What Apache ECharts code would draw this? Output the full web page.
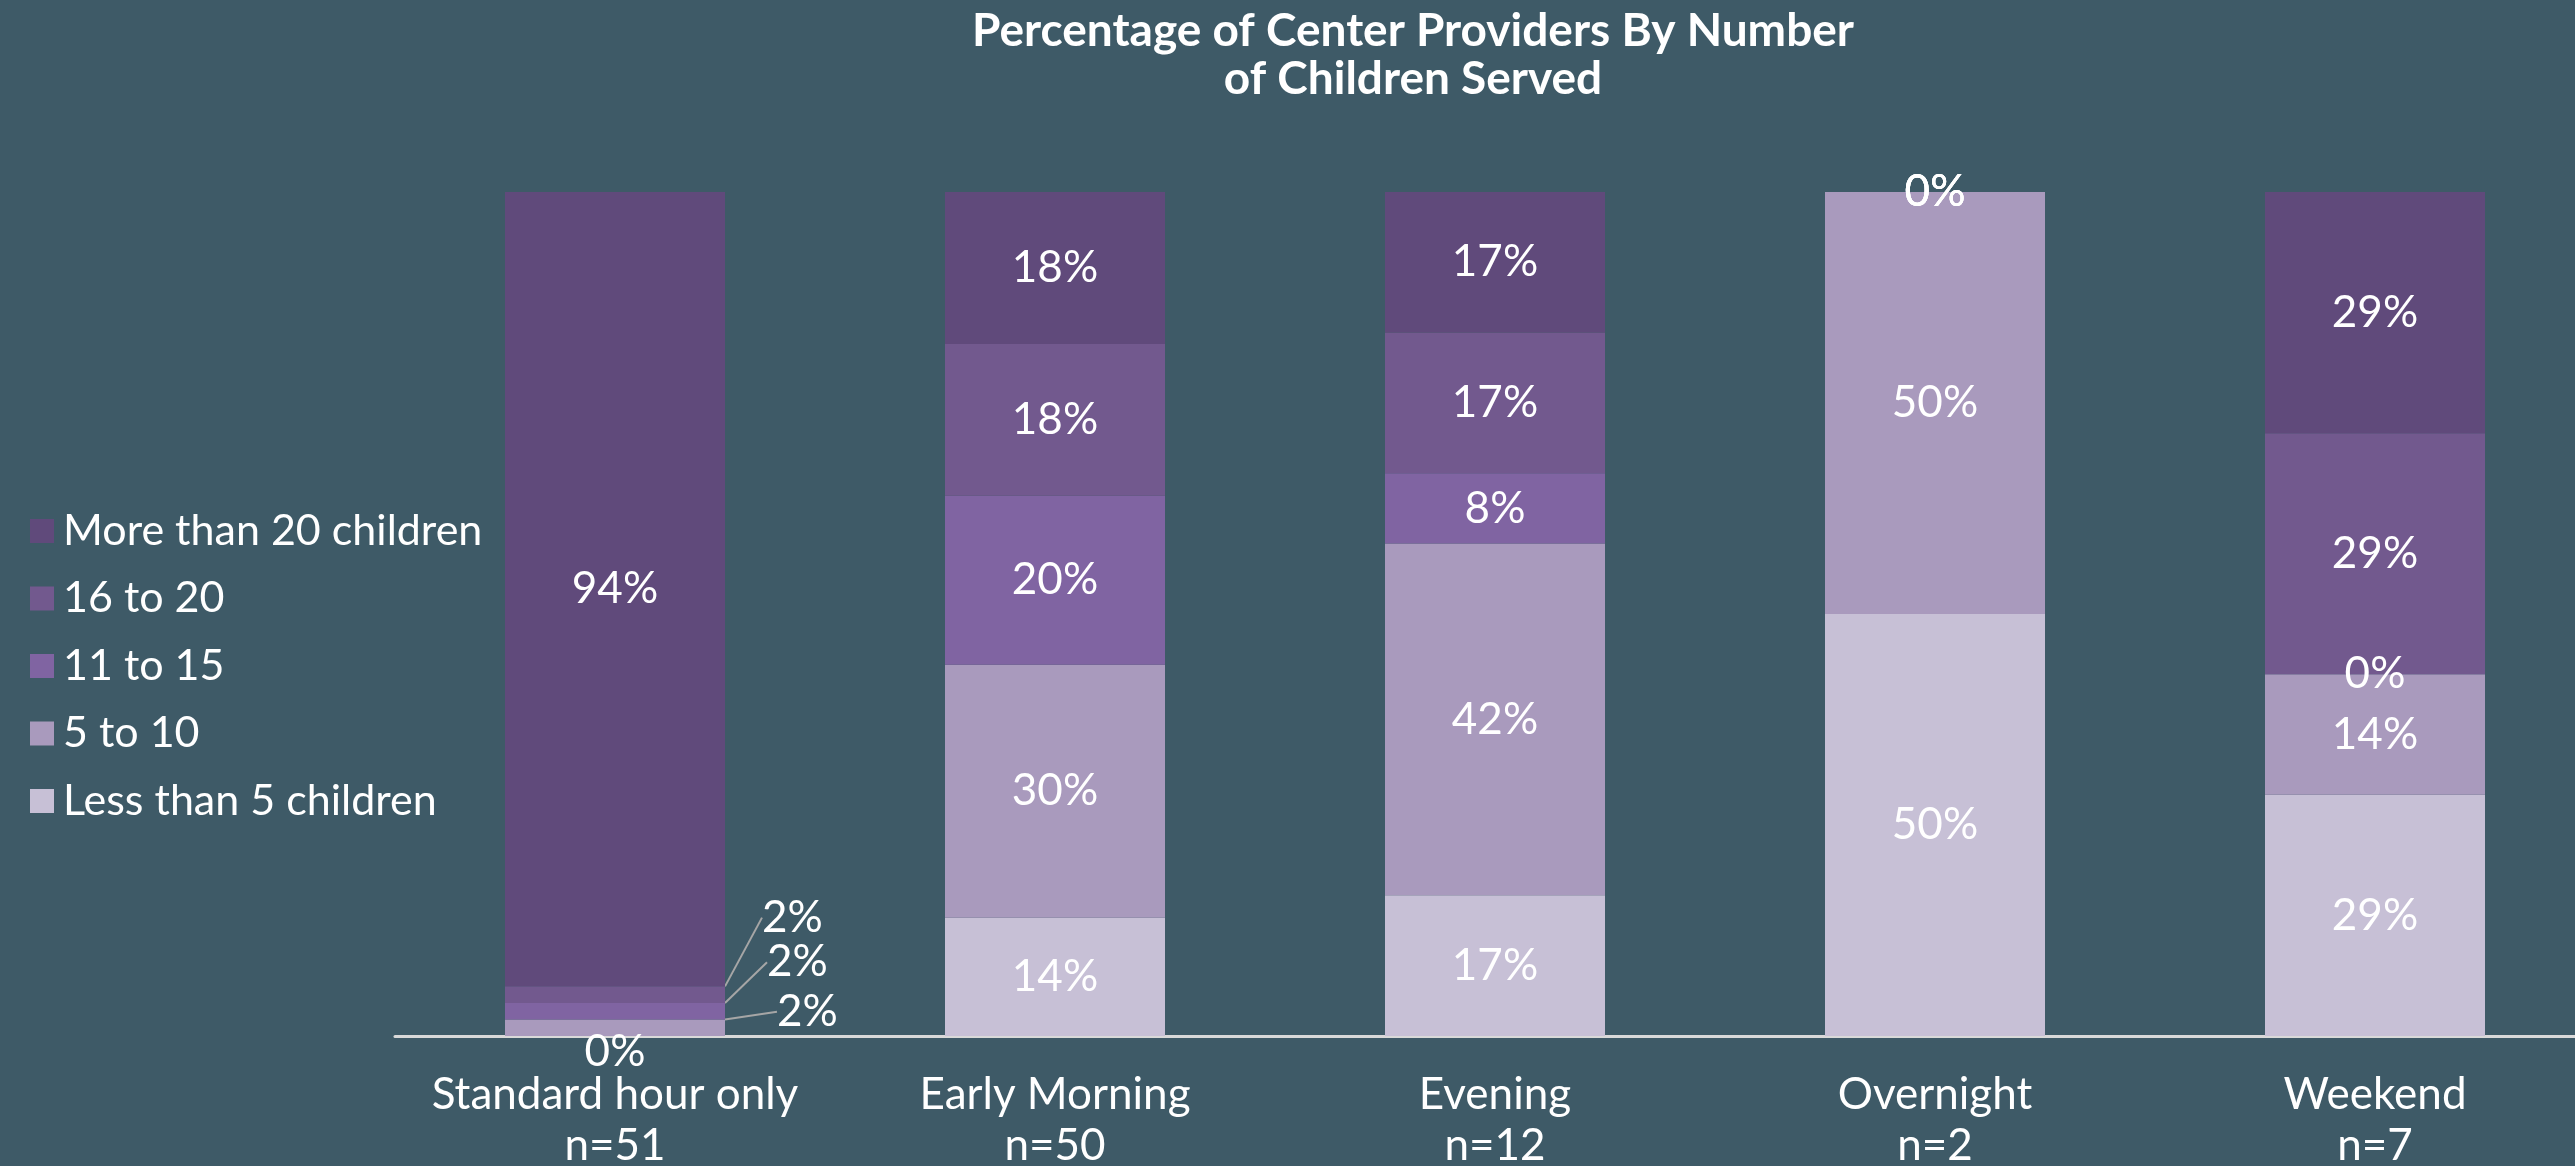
<!DOCTYPE html>
<html>
<head>
<meta charset="utf-8">
<script src="https://cdn.jsdelivr.net/npm/echarts@6/dist/echarts.min.js"></script>
<style>
  html, body { margin: 0; padding: 0; background: #3e5a67; }
  #main { width: 2575px; height: 1166px; }
</style>
</head>
<body>
<div id="main"></div>
<script>
// categories (x axis), two lines each
const categories = ['Standard hour only\nn=51', 'Early Morning\nn=50', 'Evening\nn=12', 'Overnight\nn=2', 'Weekend\nn=7'];

// share of providers (%) per group
const lessThan5 = [0, 14, 16.67, 50, 28.57];
const fiveTo10 = [1.96, 30, 41.67, 50, 14.29];
const elevenTo15 = [1.96, 20, 8.33, 0, 0];
const sixteenTo20 = [1.96, 18, 16.67, 0, 28.57];
const moreThan20 = [94.12, 18, 16.67, 0, 28.57];

const seriesNames = ['Less than 5 children', '5 to 10', '11 to 15', '16 to 20', 'More than 20 children'];
const seriesColors = ['#c7c0d6', '#a99abd', '#8064a2', '#72598e', '#604a7b'];

const font = 'Lato, "Noto Sans", sans-serif';

// the thin slices of the first bar get callout labels off to the right
const callouts = {
  '16 to 20': [37, -77],
  '11 to 15': [42, -49],
  '5 to 10': [52, -16]
};

function layoutFor(name) {
  if (name === 'Less than 5 children') {
    // the 0% of the first bar drops under the axis
    return function (p) {
      if (p.dataIndex !== 0) return {};
      return { dy: 16 };
    };
  }
  const off = callouts[name];
  if (!off) return null;
  return function (p) {
    if (p.dataIndex !== 0) return {};
    const r = p.rect;
    const x0 = r.x + r.width, y0 = r.y + r.height / 2;
    const lx = x0 + off[0], ly = y0 + off[1];
    return {
      x: lx, y: ly, align: 'left', verticalAlign: 'middle',
      labelLinePoints: [[x0, y0], [lx - 23, ly + 4], [lx - 11, ly + 4]]
    };
  };
}

const values = [lessThan5, fiveTo10, elevenTo15, sixteenTo20, moreThan20];

const series = seriesNames.map(function (name, i) {
  const s = {
    name: name,
    type: 'bar',
    stack: 'total',
    barCategoryGap: '50%',
    data: values[i],
    itemStyle: { color: seriesColors[i] },
    label: {
      show: true,
      position: 'inside',
      padding: [8, 0, 0, 0],
      color: '#ffffff',
      fontSize: 44,
      fontFamily: font,
      formatter: function (p) { return Math.round(p.value) + '%'; }
    },
    emphasis: { disabled: true }
  };
  const lay = layoutFor(name);
  if (lay) s.labelLayout = lay;
  if (callouts[name]) {
    s.labelLine = { show: true, lineStyle: { color: '#a6a6a6', width: 2 } };
  }
  return s;
});

const chart = echarts.init(document.getElementById('main'));
chart.setOption({
  backgroundColor: '#3e5a67',
  animation: false,
  title: {
    text: 'Percentage of Center Providers By Number\nof Children Served',
    left: 1413,
    top: 7,
    textAlign: 'center',
    padding: 0,
    textStyle: {
      color: '#ffffff',
      fontSize: 46,
      fontWeight: 'bold',
      lineHeight: 48,
      fontFamily: font
    }
  },
  legend: {
    orient: 'vertical',
    left: 25,
    top: 504,
    itemWidth: 24,
    itemHeight: 24,
    itemGap: 23.5,
    icon: 'rect',
    data: ['More than 20 children', '16 to 20', '11 to 15', '5 to 10', 'Less than 5 children'],
    textStyle: { color: '#ffffff', fontSize: 43, lineHeight: 44, fontFamily: font, padding: [0, 0, 0, 4] }
  },
  grid: { left: 395, width: 2200, top: 192, bottom: 130, containLabel: false, outerBoundsMode: 'none' },
  xAxis: {
    type: 'category',
    data: categories,
    axisLine: { show: true, lineStyle: { color: '#d9d9d9', width: 3 } },
    axisTick: { show: false },
    axisLabel: { color: '#ffffff', fontSize: 44, lineHeight: 51, margin: 33, fontFamily: font, interval: 0 },
    splitLine: { show: false }
  },
  yAxis: {
    type: 'value',
    min: 0,
    max: 100,
    show: false,
    splitLine: { show: false }
  },
  series: series
});
</script>
</body>
</html>
